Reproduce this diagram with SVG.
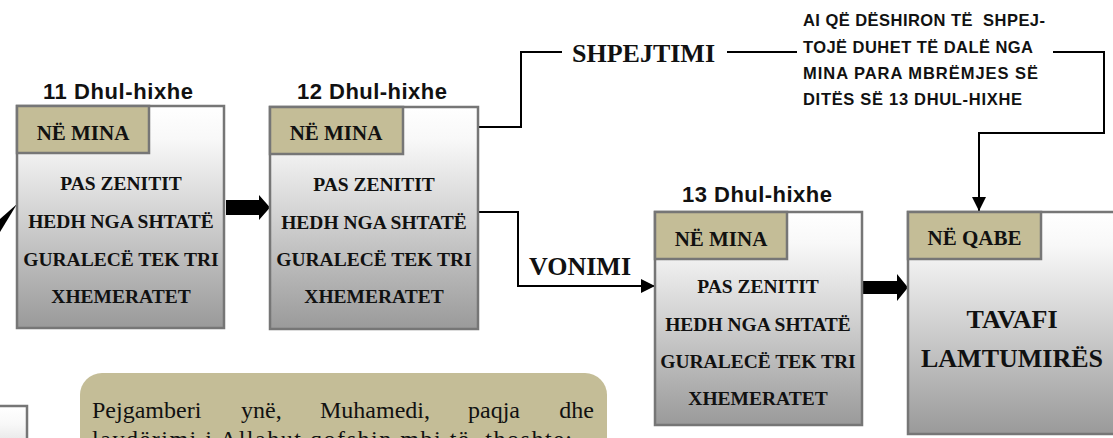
<svg xmlns="http://www.w3.org/2000/svg" width="1113" height="438" viewBox="0 0 1113 438">
<defs>
<linearGradient id="g" x1="0" y1="0" x2="0" y2="1">
<stop offset="0" stop-color="#ffffff"/>
<stop offset="0.15" stop-color="#f8f8f8"/>
<stop offset="1" stop-color="#9a9a9a"/>
</linearGradient>
<marker id="ah" markerWidth="14" markerHeight="14" refX="14" refY="7" orient="auto" markerUnits="userSpaceOnUse">
<path d="M0,0 L14,7 L0,14 Z" fill="#000"/>
</marker>
<style>
.box{fill:url(#g);stroke:#767676;stroke-width:2.5}
.tab{fill:#c4bd97;stroke:#767676;stroke-width:2.5}
.tabt{font-family:"Liberation Serif",serif;font-weight:bold;font-size:21px;fill:#111;text-anchor:middle}
.body{font-family:"Liberation Serif",serif;font-weight:bold;font-size:19.5px;fill:#111;text-anchor:middle}
.day{font-family:"Liberation Sans",sans-serif;font-weight:bold;font-size:22px;fill:#111;text-anchor:middle}
.big{font-family:"Liberation Serif",serif;font-weight:bold;font-size:26px;fill:#111}
.note{font-family:"Liberation Sans",sans-serif;font-weight:bold;font-size:16.5px;fill:#111;white-space:pre}
.para{font-family:"Liberation Serif",serif;font-size:24px;fill:#111}
.ln{fill:none;stroke:#000;stroke-width:2}
</style>
</defs>
<rect width="1113" height="438" fill="#fff"/>

<g id="connectors">
<polygon points="17,204 0,219 0,232" fill="#000"/>
<polygon points="226,200 259,200 259,195 270,207.5 259,220 259,215 226,215" fill="#000"/>
<polygon points="863,281 897,281 897,274 908,287.5 897,301 897,294 863,294" fill="#000"/>
<path class="ln" d="M478,127 H521 V52 H562"/>
<path class="ln" d="M727,52 H797"/>
<path class="ln" d="M1053,52 H1104 V133 H979 V211" marker-end="url(#ah)"/>
<path class="ln" d="M478,212 H518 V286 H655" marker-end="url(#ah)"/>
<text class="big" x="572" y="62">SHPEJTIMI</text>
<text class="big" x="529" y="275">VONIMI</text>
</g>

<g id="note">
<text class="note" x="803" y="26" textLength="242" lengthAdjust="spacing">AI QË DËSHIRON TË  SHPEJ-</text>
<text class="note" x="803" y="52.5" textLength="230" lengthAdjust="spacing">TOJË DUHET TË DALË NGA</text>
<text class="note" x="803" y="79" textLength="235" lengthAdjust="spacing">MINA PARA MBRËMJES SË</text>
<text class="note" x="803" y="104.5" textLength="219" lengthAdjust="spacing">DITËS SË 13 DHUL-HIXHE</text>
</g>

<g id="node-prev">
<rect class="box" x="-200" y="406" width="227" height="120"/>
</g>

<g id="node-11">
<text class="day" x="118" y="99" textLength="150" lengthAdjust="spacing">11 Dhul-hixhe</text>
<rect class="box" x="17" y="106" width="207" height="222"/>
<rect class="tab" x="17" y="106" width="132" height="47"/>
<text class="tabt" x="83" y="139.5">NË MINA</text>
<text class="body" x="121" y="190">PAS ZENITIT</text>
<text class="body" x="121" y="228">HEDH NGA SHTATË</text>
<text class="body" x="121" y="266">GURALECË TEK TRI</text>
<text class="body" x="121" y="303">XHEMERATET</text>
</g>

<g id="node-12">
<text class="day" x="372" y="99" textLength="150" lengthAdjust="spacing">12 Dhul-hixhe</text>
<rect class="box" x="270" y="107" width="208" height="222"/>
<rect class="tab" x="270" y="107" width="133" height="47"/>
<text class="tabt" x="336" y="140">NË MINA</text>
<text class="body" x="374" y="191">PAS ZENITIT</text>
<text class="body" x="374" y="229">HEDH NGA SHTATË</text>
<text class="body" x="374" y="266">GURALECË TEK TRI</text>
<text class="body" x="374" y="303">XHEMERATET</text>
</g>

<g id="node-13">
<text class="day" x="757" y="202" textLength="150" lengthAdjust="spacing">13 Dhul-hixhe</text>
<rect class="box" x="655" y="212" width="207" height="213"/>
<rect class="tab" x="655" y="212" width="132" height="47"/>
<text class="tabt" x="721" y="246">NË MINA</text>
<text class="body" x="758" y="293">PAS ZENITIT</text>
<text class="body" x="758" y="331">HEDH NGA SHTATË</text>
<text class="body" x="758" y="368">GURALECË TEK TRI</text>
<text class="body" x="758" y="405">XHEMERATET</text>
</g>

<g id="node-qabe">
<rect class="box" x="908" y="212" width="208" height="222"/>
<rect class="tab" x="908" y="212" width="133" height="47"/>
<text class="tabt" x="974.5" y="245">NË QABE</text>
<text class="big" x="1012" y="328" text-anchor="middle">TAVAFI</text>
<text class="big" x="1012" y="367" text-anchor="middle">LAMTUMIRËS</text>
</g>

<g id="node-hadith">
<rect x="80" y="373" width="527" height="130" rx="22" fill="#c4bd97"/>
<text class="para" y="418"><tspan x="92">Pejgamberi</tspan><tspan x="241">ynë,</tspan><tspan x="320">Muhamedi,</tspan><tspan x="468">paqja</tspan><tspan x="594" text-anchor="end">dhe</tspan></text>
<text class="para" x="92" y="447" textLength="480" lengthAdjust="spacing">lavdërimi i Allahut qofshin mbi të, thoshte:</text>
</g>
</svg>
